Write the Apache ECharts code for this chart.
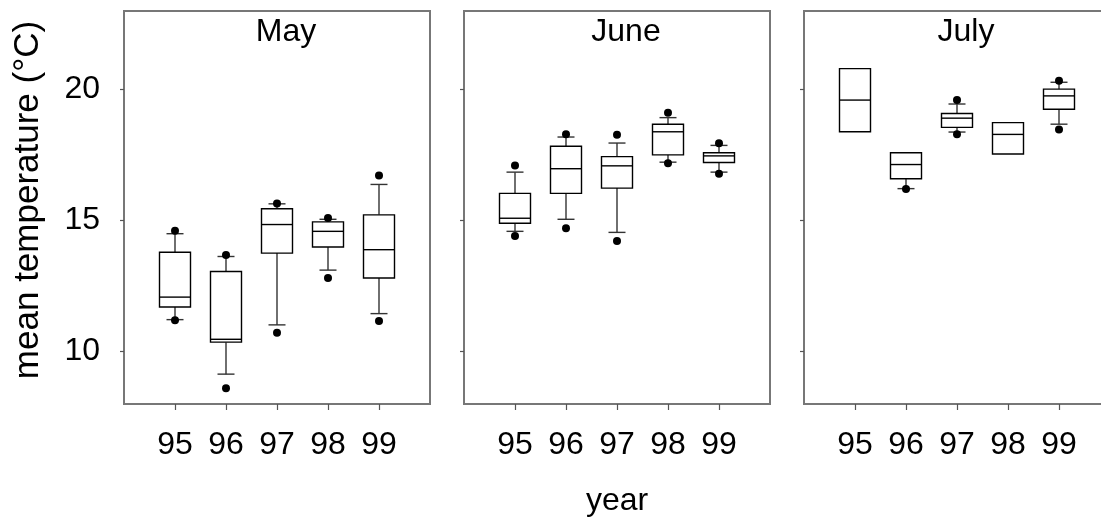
<!DOCTYPE html>
<html>
<head>
<meta charset="utf-8">
<script src="https://cdn.jsdelivr.net/npm/echarts@6/dist/echarts.min.js"></script>
<style>
  html, body { margin: 0; padding: 0; background: #fff; }
  #chart { width: 1101px; height: 518px; }
</style>
</head>
<body>
<div id="chart"></div>
<script>
// Monthly mean temperature by year
const months = ['May', 'June', 'July'];
const years = ['95', '96', '97', '98', '99'];
const yTicks = [10, 15, 20];

// [lower whisker, Q1, median, Q3, upper whisker] for each year
const mayBoxes = [
  [11.22, 11.70, 12.08, 13.79, 14.50],
  [9.14, 10.36, 10.47, 13.06, 13.63],
  [11.02, 13.76, 14.85, 15.45, 15.64],
  [13.11, 13.99, 14.59, 14.95, 15.05],
  [11.45, 12.81, 13.89, 15.22, 16.38]
];
const juneBoxes = [
  [14.59, 14.90, 15.09, 16.04, 16.85],
  [15.05, 16.04, 16.98, 17.84, 18.19],
  [14.55, 16.24, 17.09, 17.44, 17.96],
  [17.23, 17.51, 18.39, 18.68, 18.93],
  [16.85, 17.22, 17.47, 17.59, 17.87]
];
const julyBoxes = [
  [null, 18.39, 19.60, 20.80, null],
  [16.22, 16.60, 17.14, 17.59, null],
  [18.38, 18.56, 18.91, 19.09, 19.45],
  [null, 17.54, 18.29, 18.74, null],
  [18.68, 19.25, 19.76, 20.02, 20.28]
];

// [low extreme, high extreme] points for each year
const mayPoints = [[11.20, 14.61], [8.60, 13.69], [10.72, 15.65], [12.81, 15.10], [11.17, 16.72]];
const junePoints = [[14.41, 17.10], [14.71, 18.30], [14.22, 18.28], [17.19, 19.12], [16.79, 17.95]];
const julyPoints = [[null, null], [16.21, null], [18.30, 19.60], [null, null], [18.48, 20.34]];

const boxesByMonth = [mayBoxes, juneBoxes, julyBoxes];
const pointsByMonth = [mayPoints, junePoints, julyPoints];

const FONT = '"Liberation Sans", Arial, Helvetica, sans-serif';
const panelLeft = [124, 464, 804];
const panelWidth = 306;
const panelTop = 11;
const panelHeight = 393;

function missing(v) { return v == null || isNaN(v); }

function renderBox(params, api) {
  const x = api.value(0);
  const lo = api.value(1), q1 = api.value(2), med = api.value(3), q3 = api.value(4), hi = api.value(5);
  const c = v => api.coord([x, v]);
  const cx = c(q1)[0];
  const halfBox = 15.5, halfCap = 8.5;
  const lineStyle = { stroke: '#000', lineWidth: 1.4, fill: null };
  const whiskStroke = { stroke: '#333', lineWidth: 1.4 };
  const children = [];
  const yQ1 = c(q1)[1], yQ3 = c(q3)[1], yMed = c(med)[1];
  if (!missing(lo)) {
    const yLo = c(lo)[1];
    children.push({ type: 'line', shape: { x1: cx, y1: yQ1, x2: cx, y2: yLo }, style: whiskStroke });
    children.push({ type: 'line', shape: { x1: cx - halfCap, y1: yLo, x2: cx + halfCap, y2: yLo }, style: whiskStroke });
  }
  if (!missing(hi)) {
    const yHi = c(hi)[1];
    children.push({ type: 'line', shape: { x1: cx, y1: yQ3, x2: cx, y2: yHi }, style: whiskStroke });
    children.push({ type: 'line', shape: { x1: cx - halfCap, y1: yHi, x2: cx + halfCap, y2: yHi }, style: whiskStroke });
  }
  children.push({
    type: 'rect',
    shape: { x: cx - halfBox, y: yQ3, width: halfBox * 2, height: yQ1 - yQ3 },
    style: { stroke: '#000', lineWidth: 1.4, fill: '#fff' }
  });
  children.push({ type: 'line', shape: { x1: cx - halfBox, y1: yMed, x2: cx + halfBox, y2: yMed }, style: lineStyle });
  return { type: 'group', children };
}

const grid = [], xAxis = [], yAxis = [], series = [], graphic = [];

months.forEach((m, i) => {
  grid.push({
    left: panelLeft[i], top: panelTop, width: panelWidth, height: panelHeight,
    outerBoundsMode: 'none', containLabel: false,
    show: true, borderColor: '#777', borderWidth: 2, backgroundColor: 'transparent'
  });
  xAxis.push({
    type: 'value', gridIndex: i, min: 0, max: years.length + 1,
    axisLine: { show: false },
    splitLine: { show: false },
    axisTick: { show: true, length: 6, lineStyle: { color: '#555', width: 1.2 },
      customValues: years.map((_, k) => k + 1) },
    axisLabel: { show: true, customValues: years.map((_, k) => k + 1),
      formatter: v => years[v - 1] || '', fontSize: 32, fontFamily: FONT, color: '#000', margin: 25 }
  });
  yAxis.push({
    type: 'value', gridIndex: i, min: 8, max: 23,
    axisLine: { show: false },
    splitLine: { show: false },
    axisTick: { show: true, length: 4, lineStyle: { color: '#555', width: 1.2 }, customValues: yTicks },
    axisLabel: { show: i === 0, customValues: yTicks, fontSize: 32, fontFamily: FONT, color: '#000', margin: 24 }
  });

  const boxes = boxesByMonth[i];
  series.push({
    type: 'custom', name: m + ' boxes', xAxisIndex: i, yAxisIndex: i,
    renderItem: renderBox,
    encode: { x: 0, y: [2, 3, 4] },
    data: boxes.map((b, k) => [k + 1].concat(b.map(v => (v == null ? '-' : v)))),
    silent: true
  });

  const pts = [];
  pointsByMonth[i].forEach((p, k) => {
    p.forEach(v => { if (v != null) pts.push([k + 1, v]); });
  });
  series.push({
    type: 'scatter', name: m + ' extremes', xAxisIndex: i, yAxisIndex: i,
    data: pts, symbol: 'circle', symbolSize: 8,
    itemStyle: { color: '#000', opacity: 1 }, z: 5, silent: true
  });

  graphic.push({
    type: 'text',
    x: panelLeft[i] + panelWidth / 2 + 9, y: 32,
    style: { text: m, font: '32px ' + FONT, fill: '#000', align: 'center', verticalAlign: 'middle' }
  });
});

graphic.push({
  type: 'text', x: 617, y: 501,
  style: { text: 'year', font: '32px ' + FONT, fill: '#000', align: 'center', verticalAlign: 'middle' }
});
graphic.push({
  type: 'text', x: 28, y: 200, rotation: Math.PI / 2,
  style: { text: 'mean temperature (°C)', font: '35px ' + FONT, fill: '#000', align: 'center', verticalAlign: 'middle' }
});

const chart = echarts.init(document.getElementById('chart'), null, { renderer: 'canvas' });
chart.setOption({
  animation: false,
  backgroundColor: '#fff',
  grid, xAxis, yAxis, series, graphic
});
</script>
</body>
</html>
